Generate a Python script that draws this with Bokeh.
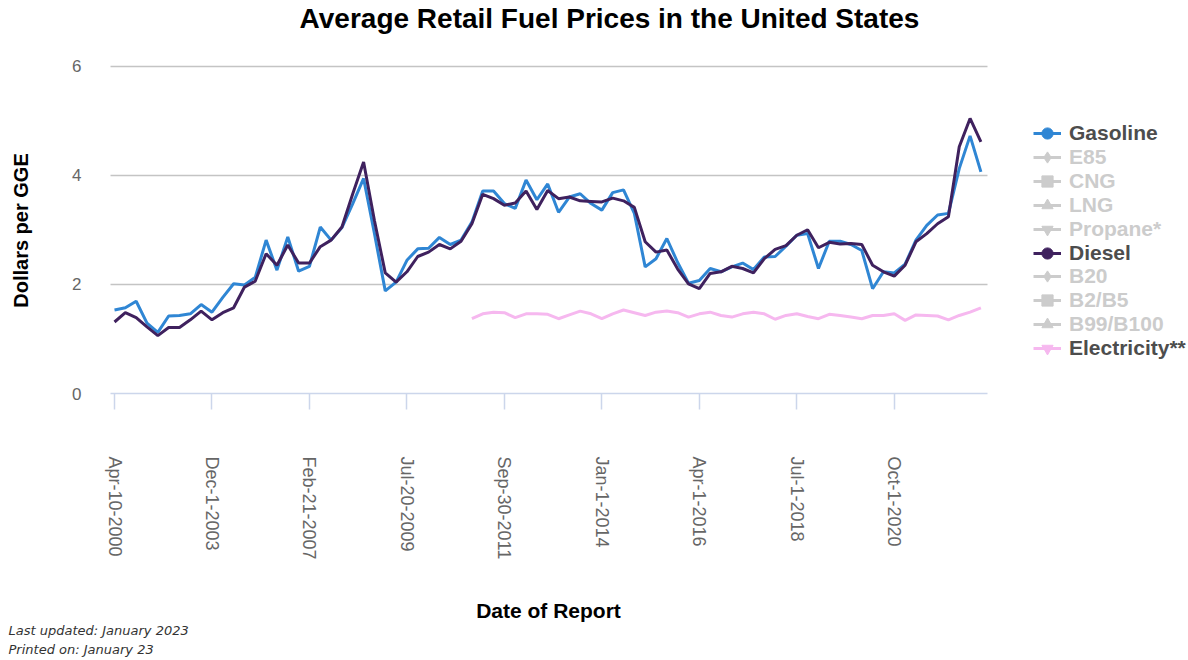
import math
from bokeh.plotting import figure
from bokeh.models import FixedTicker, Legend, LegendItem, Range1d, Label
from bokeh.embed import file_html
from bokeh.resources import INLINE

# ---------------- data ----------------
title_text = "Average Retail Fuel Prices in the United States"
x_title = "Date of Report"
y_title = "Dollars per GGE"

tick_index = [0, 9, 18, 27, 36, 45, 54, 63, 72]
tick_labels = ["Apr-10-2000", "Dec-1-2003", "Feb-21-2007", "Jul-20-2009",
               "Sep-30-2011", "Jan-1-2014", "Apr-1-2016", "Jul-1-2018",
               "Oct-1-2020"]

gasoline = [1.53, 1.57, 1.69, 1.29, 1.12, 1.42, 1.43, 1.46, 1.63, 1.49,
            1.76, 2.01, 1.99, 2.13, 2.81, 2.26, 2.87, 2.24, 2.33, 3.05,
            2.81, 3.04, 3.48, 3.94, 2.93, 1.88, 2.04, 2.44, 2.65, 2.66,
            2.86, 2.73, 2.81, 3.14, 3.71, 3.71, 3.48, 3.39, 3.91, 3.55,
            3.84, 3.32, 3.60, 3.66, 3.48, 3.36, 3.68, 3.73, 3.30, 2.32,
            2.47, 2.84, 2.40, 2.02, 2.07, 2.29, 2.23, 2.32, 2.39, 2.27,
            2.50, 2.51, 2.70, 2.90, 2.93, 2.29, 2.79, 2.79, 2.73, 2.62,
            1.92, 2.23, 2.21, 2.37, 2.81, 3.08, 3.27, 3.30, 4.12, 4.72,
            4.06]

diesel = [1.31, 1.48, 1.39, 1.22, 1.06, 1.21, 1.21, 1.35, 1.51, 1.35,
          1.48, 1.57, 1.95, 2.06, 2.56, 2.35, 2.72, 2.39, 2.39, 2.69,
          2.81, 3.05, 3.66, 4.24, 3.17, 2.21, 2.04, 2.23, 2.51, 2.59,
          2.73, 2.65, 2.79, 3.11, 3.65, 3.57, 3.45, 3.49, 3.71, 3.37,
          3.72, 3.57, 3.60, 3.53, 3.52, 3.51, 3.58, 3.53, 3.41, 2.78,
          2.59, 2.63, 2.28, 2.01, 1.92, 2.20, 2.23, 2.33, 2.29, 2.21,
          2.47, 2.64, 2.71, 2.90, 3.00, 2.67, 2.77, 2.74, 2.75, 2.73,
          2.35, 2.23, 2.15, 2.35, 2.78, 2.93, 3.11, 3.24, 4.52, 5.04,
          4.61]

electricity_start = 33
electricity = [1.37, 1.46, 1.49, 1.48, 1.39, 1.46, 1.46, 1.45, 1.37, 1.44,
               1.51, 1.46, 1.37, 1.46, 1.53, 1.48, 1.43, 1.49, 1.51, 1.48,
               1.40, 1.46, 1.49, 1.43, 1.40, 1.46, 1.49, 1.46, 1.36, 1.43,
               1.46, 1.41, 1.37, 1.45, 1.43, 1.40, 1.37, 1.43, 1.43, 1.46,
               1.34, 1.44, 1.43, 1.42, 1.35, 1.43, 1.49, 1.57]

legend_names = ["Gasoline", "E85", "CNG", "LNG", "Propane*", "Diesel",
                "B20", "B2/B5", "B99/B100", "Electricity**"]
legend_markers = ["circle", "diamond", "square", "triangle", "inverted_triangle",
                  "circle", "diamond", "square", "triangle", "inverted_triangle"]
legend_shown = [True, False, False, False, False, True, False, False, False, True]

footer_lines = ["Last updated: January 2023", "Printed on: January 23"]

# ---------------- styles / layout ----------------
BLUE = "#2f86d4"
PURPLE = "#3f215e"
PINK = "#f6b8ef"
GRAY = "#cccccc"
FONT = "Liberation Sans"
NAN = float("nan")

W, H = 1188, 660
AXIS_X, AXIS_Y = 110, 393          # pixel position of the plot area's left edge / zero line
PX_PER_CAT = 10.83
PX_PER_DOLLAR = 54.58
X_START, X_END = -0.37, 80.6       # category span of the plot area
x_lo = X_START - AXIS_X / PX_PER_CAT
x_hi = X_START + (W - AXIS_X) / PX_PER_CAT
y_lo = -(H - AXIS_Y) / PX_PER_DOLLAR
y_hi = AXIS_Y / PX_PER_DOLLAR

def sy(page_y):
    """page pixel row -> screen units measured up from the bottom"""
    return H - page_y

p = figure(width=W, height=H, output_backend="svg", toolbar_location=None,
           x_range=Range1d(x_lo, x_hi), y_range=Range1d(y_lo, y_hi),
           min_border=0)
p.outline_line_color = None
p.title.text = ""

# x axis, fixed on the zero line
p.xaxis.fixed_location = 0
p.xaxis.bounds = (X_START, X_END)
p.xaxis.ticker = FixedTicker(ticks=tick_index)
p.xaxis.major_label_overrides = {i: s for i, s in zip(tick_index, tick_labels)}
p.xaxis.major_label_orientation = -math.pi / 2
p.xaxis.major_label_text_font = FONT
p.xaxis.major_label_text_font_size = "18px"
p.xaxis.major_label_text_color = "#666666"
p.xaxis.major_label_standoff = 47
p.xaxis.axis_line_color = "#ccd6eb"
p.xaxis.axis_line_width = 1.5
p.xaxis.major_tick_line_color = "#ccd6eb"
p.xaxis.major_tick_line_width = 1.5
p.xaxis.major_tick_out = 16
p.xaxis.major_tick_in = 0
p.xaxis.minor_tick_line_color = None

# y axis, fixed on the plot area's left edge
p.yaxis.fixed_location = X_START
p.yaxis.bounds = (0, 6)
p.yaxis.ticker = FixedTicker(ticks=[0, 2, 4, 6])
p.yaxis.axis_line_color = None
p.yaxis.major_tick_line_color = None
p.yaxis.minor_tick_line_color = None
p.yaxis.major_tick_out = 0
p.yaxis.major_tick_in = 0
p.yaxis.major_label_standoff = 29
p.yaxis.major_label_text_font = FONT
p.yaxis.major_label_text_font_size = "17px"
p.yaxis.major_label_text_color = "#666666"

# grid
p.xgrid.grid_line_color = None
p.ygrid.ticker = FixedTicker(ticks=[2, 4, 6])
p.ygrid.grid_line_color = "#c4c4c4"
p.ygrid.grid_line_width = 1.5
try:
    p.ygrid.cross_bounds = (X_START, X_END)
except Exception:
    p.ygrid.grid_line_color = None
    p.segment(x0=[X_START] * 3, x1=[X_END] * 3, y0=[2, 4, 6], y1=[2, 4, 6],
              line_color="#c4c4c4", line_width=1.5, level="underlay")

# series
x_main = list(range(len(gasoline)))
x_elec = list(range(electricity_start, electricity_start + len(electricity)))
r_gas = p.line(x_main, gasoline, line_color=BLUE, line_width=3)
r_die = p.line(x_main, diesel, line_color=PURPLE, line_width=3)
r_ele = p.line(x_elec, electricity, line_color=PINK, line_width=3)
series_lines = {"Gasoline": (r_gas, BLUE), "Diesel": (r_die, PURPLE),
                "Electricity**": (r_ele, PINK)}

# legend: one small legend per row so each label can have its own colour
row_centers = [133 + 23.9 * i for i in range(len(legend_names))]
for name, marker, shown, c in zip(legend_names, legend_markers, legend_shown, row_centers):
    if shown:
        line_r, col = series_lines[name]
        text_col = "#4d4d4d"
    else:
        col = GRAY
        line_r = p.line([NAN], [NAN], line_color=col, line_width=3)
        text_col = GRAY
    # legend-only marker (a single NaN point so the legend can draw its symbol)
    mark_r = p.scatter([NAN], [NAN], marker=marker, fill_color=col, line_color=col, size=10)
    lg = Legend(items=[LegendItem(label=name, renderers=[line_r, mark_r])],
                location=(1033, sy(c + 14)), padding=0, margin=0, spacing=0,
                glyph_width=28, glyph_height=28, label_standoff=8,
                label_text_font=FONT, label_text_font_size="21px",
                label_text_font_style="bold", label_text_color=text_col,
                label_text_baseline="middle",
                background_fill_alpha=0, border_line_alpha=0)
    p.add_layout(lg, "center")

# texts
p.add_layout(Label(x=609, y=sy(18), x_units="screen", y_units="screen", text=title_text,
                   text_font=FONT, text_font_size="28px", text_font_style="bold",
                   text_color="#000000", text_align="center", text_baseline="middle"))
p.add_layout(Label(x=548, y=sy(610), x_units="screen", y_units="screen", text=x_title,
                   text_font=FONT, text_font_size="21px", text_font_style="bold",
                   text_color="#000000", text_align="center", text_baseline="middle"))
p.add_layout(Label(x=20, y=sy(230), x_units="screen", y_units="screen", text=y_title,
                   angle=math.pi / 2, text_font=FONT, text_font_size="20px",
                   text_font_style="bold", text_color="#000000",
                   text_align="center", text_baseline="middle"))
for txt, yy in zip(footer_lines, [630, 649]):
    p.add_layout(Label(x=8, y=sy(yy), x_units="screen", y_units="screen", text=txt,
                       text_font="DejaVu Sans", text_font_size="13px",
                       text_font_style="italic", text_color="#333333",
                       text_align="left", text_baseline="middle"))

open("out.html", "w").write(file_html(p, INLINE))
